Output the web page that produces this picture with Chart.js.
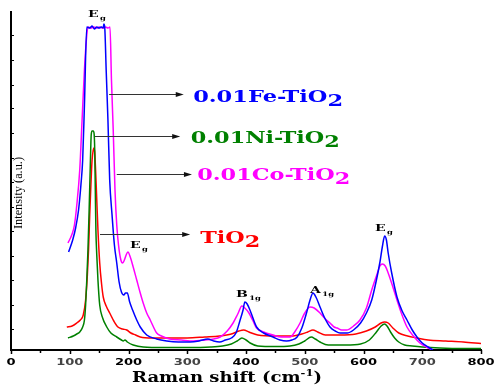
<!DOCTYPE html>
<html><head><meta charset="utf-8">
<script src="https://cdn.jsdelivr.net/npm/chart.js@4.4.0/dist/chart.umd.min.js"></script>
<style>html,body{margin:0;padding:0;background:#fff}canvas{display:block}</style>
</head><body>
<canvas id="c" width="494" height="387"></canvas>
<script>
// ---- data (Raman shift in cm^-1, intensity in arbitrary units) ----
const feShift=[98,105,110,115,119,122,125,129,134,138,142,146,150,154,157,158,159.5,162,165,168,172,176,180,184,188,192,195,198,202,207,214,220,231,248,265,285,305,320,335,345,355,365,375,383,390,395,398,402,408,418,430,446,458,469,478,487,495,503,509,514,519,526,534,543,552,560,572,583,595,605,614,622,628,632,636,639,642,648,657,665,674,683,691,700,710,718];
const feInt=[98,110,122,140,165,190,245,323,322,324,321,323,322,323,322,326,323,280,230,170,135,105,87,68,58,55,57,57,48,40,30,23,15,11,9,8,8,9,11,9,8,10,12,17,30,40,48,46,38,23,17,13,10,9,10,13,22,37,50,57,53,43,32,23,19,17,17,20,27,37,50,70,88,103,114,110,97,77,53,40,30,20,13,7,3,0];

const coShift=[97,104,108,112,117,121,125,129,131,136,141,146,151,156,161,165,168.5,171,174,177,180,183,187,190,193,196,199,203,208,214,220,225,231,237,248,256,270,290,310,330,345,356,368,378,386,393,398,405,412,418,430,446,460,475,484,492,500,509,516,526,535,543,550,555,563,571,583,594,605,614,622,628,632,637,642,650,657,665,674,685,696,707,718];
const coInt=[107,116,125,145,180,230,280,315,323,322,323,322,323,322,323,322,323,270,220,160,125,105,90,87,90,95,98,93,83,70,57,47,37,30,17,14,11,10,9,10,11,13,19,27,36,44,42,37,29,22,18,15,13,13,19,27,37,43,42,37,31,27,23,22,20,20,24,30,42,60,74,84,86,84,77,63,50,36,23,14,7,3,0];

const niShift=[97,106,112,117,122,125,127,129,131,133,135,136.5,138,140,141.5,142.5,143.5,144.5,146,148,151,156,163,170,180,188,191,194,198,208,225,260,300,340,360,375,385,393,400,407,420,450,475,490,500,511,518,526,540,570,595,610,622,630,636,640,646,653,660,670,683,700,730,770,800];
const niInt=[12,14,16,18,23,30,45,70,100,140,185,215,219,219,216,200,160,120,95,70,45,32,23,17,13,10,9,10,8,5,3,2.5,2.5,3,4,6,9,12,10,7,4,3.5,4,6,9,13,11,8,5,5,6,10,18,24,26,24,18,12,8,5,4,3,2,1.5,1.5];

const tiShift=[95,104,112,118,123,127,130,132,134,136,138,140,141,142.5,144,146,148,151,154,157,162,168,175,182,190,197,204,212,220,240,270,300,330,355,375,388,396,405,420,450,480,495,505,514,522,535,560,587,605,620,630,636,642,650,660,675,691,710,740,770,800];
const tiInt=[23,24,27,30,35,50,75,100,135,165,190,200,202,198,180,150,120,87,67,53,44,37,29,23,21,20,17,15,13,12,12,12,13,14,16,19,20,18,15,14,14,16,18,20,18,15,15,16,19,23,27,28,27,22,17,14,12,10,9,8,6.5];

const seriesNames=['0.01Fe-TiO2','0.01Co-TiO2','0.01Ni-TiO2','TiO2'];
const xTickValues=[0,100,200,300,400,500,600,700,800];
const xTickLabels=['0','100','200','300','400','500','600','700','800'];
const xMinorValues=[50,150,250,350,450,550,650,750];
const yTickValues=[21,45,70,94,119,143,168,192,217,242,265,290,315];

// ---- annotation placement (data units) ----
const callouts=[
  {x1:167,y:256,x2:294,tx:310,tb:248,tw:150,color:'#0000ff',text:'0.01Fe-TiO',sub:'2'},
  {x1:143,y:214,x2:288,tx:306,tb:207,tw:149,color:'#008000',text:'0.01Ni-TiO',sub:'2'},
  {x1:180,y:175.5,x2:308,tx:317,tb:170,tw:153,color:'#ff00ff',text:'0.01Co-TiO',sub:'2'},
  {x1:151.5,y:116.5,x2:305,tx:322,tb:107,tw:60,color:'#ff0000',text:'TiO',sub:'2'}
];
const peakLabels=[
  {x:131,y:333,main:'E',sub:'g'},
  {x:202.6,y:102,main:'E',sub:'g'},
  {x:383,y:53,main:'B',sub:'1g'},
  {x:509,y:57,main:'A',sub:'1g'},
  {x:619.6,y:119,main:'E',sub:'g'}
];

function pts(xs,ys){return xs.map((x,i)=>({x:x,y:ys[i]}));}

function richWidth(ctx,parts){let w=0;parts.forEach(p=>{ctx.font=p.f;w+=ctx.measureText(p.t).width+(p.gap||0);});return w;}
function drawRich(ctx,parts,x,y,scaleX,color,align){
  ctx.save();
  const w=richWidth(ctx,parts)*scaleX;
  let sx=x; if(align==='center') sx=x-w/2;
  ctx.translate(sx,y); ctx.scale(scaleX,1);
  ctx.fillStyle=color; ctx.textBaseline='alphabetic'; ctx.textAlign='left';
  let cx=0;
  parts.forEach(p=>{ctx.font=p.f;ctx.fillText(p.t,cx,p.dy||0);cx+=ctx.measureText(p.t).width+(p.gap||0);});
  ctx.restore();
}
function drawRichFit(ctx,parts,x,y,targetW,color){
  const w=richWidth(ctx,parts);
  drawRich(ctx,parts,x,y,targetW/w,color,'left');
}

const decor={
  id:'decor',
  afterDraw(chart){
    const ctx=chart.ctx, xs=chart.scales.x, ys=chart.scales.y, ca=chart.chartArea;
    ctx.save();
    // x tick marks
    ctx.strokeStyle='#000'; ctx.lineWidth=1.5;
    xTickValues.forEach(v=>{const p=Math.round(xs.getPixelForValue(v))+0.5;ctx.beginPath();ctx.moveTo(p,ca.bottom);ctx.lineTo(p,ca.bottom+4);ctx.stroke();});
    xMinorValues.forEach(v=>{const p=Math.round(xs.getPixelForValue(v))+0.5;ctx.beginPath();ctx.moveTo(p,ca.bottom);ctx.lineTo(p,ca.bottom+3);ctx.stroke();});
    // y tick marks (inward)
    ctx.lineWidth=1;
    yTickValues.forEach(v=>{const p=Math.round(ys.getPixelForValue(v))+0.5;ctx.beginPath();ctx.moveTo(ca.left,p);ctx.lineTo(ca.left+3,p);ctx.stroke();});
    // x tick labels
    xTickValues.forEach((v,i)=>{
      drawRich(ctx,[{t:xTickLabels[i],f:'bold 9px "DejaVu Sans"'}],xs.getPixelForValue(v),ca.bottom+15,1.45,i%2?'#444':'#000','center');
    });
    // x title
    drawRichFit(ctx,[{t:'Raman shift (cm',f:'bold 14px "DejaVu Serif"'},{t:'-1',f:'bold 9px "DejaVu Serif"',dy:-6},{t:')',f:'bold 14px "DejaVu Serif"'}],132,ca.bottom+32,190,'#000');
    // y title
    ctx.save();
    ctx.translate(ca.left+11,193); ctx.rotate(-Math.PI/2);
    ctx.font='12px "Liberation Serif"';
    const tw=ctx.measureText('Intensity (a.u.)').width;
    ctx.scale(72/tw,1);
    ctx.fillStyle='#000'; ctx.textAlign='center'; ctx.textBaseline='alphabetic';
    ctx.fillText('Intensity (a.u.)',0,0);
    ctx.restore();
    // callouts
    callouts.forEach(c=>{
      const a=xs.getPixelForValue(c.x1), b=xs.getPixelForValue(c.x2), y=Math.round(ys.getPixelForValue(c.y))+0.5;
      ctx.strokeStyle='#333'; ctx.lineWidth=1;
      ctx.beginPath(); ctx.moveTo(a,y); ctx.lineTo(b-5,y); ctx.stroke();
      ctx.fillStyle='#111'; ctx.beginPath(); ctx.moveTo(b,y); ctx.lineTo(b-8,y-2.5); ctx.lineTo(b-8,y+2.5); ctx.closePath(); ctx.fill();
      drawRichFit(ctx,[{t:c.text,f:'bold 16px "DejaVu Serif"'},{t:c.sub,f:'bold 16px "DejaVu Serif"',dy:4}],xs.getPixelForValue(c.tx),ys.getPixelForValue(c.tb),c.tw,c.color);
    });
    // peak labels
    peakLabels.forEach(p=>{
      drawRich(ctx,[{t:p.main,f:'bold 10px "DejaVu Serif"',gap:1},{t:p.sub,f:'bold 6px "DejaVu Serif"',dy:3}],xs.getPixelForValue(p.x),ys.getPixelForValue(p.y),1.4,'#000','left');
    });
    ctx.restore();
  }
};

const lineDs=(label,xs,ys,color)=>({label:label,data:pts(xs,ys),borderColor:color,backgroundColor:color,borderWidth:1.5,pointRadius:0,fill:false,cubicInterpolationMode:'monotone'});

new Chart(document.getElementById('c'),{
  type:'line',
  data:{datasets:[
    lineDs(seriesNames[0],feShift,feInt,'#0000ff'),
    lineDs(seriesNames[1],coShift,coInt,'#ff00ff'),
    lineDs(seriesNames[2],niShift,niInt,'#008000'),
    lineDs(seriesNames[3],tiShift,tiInt,'#ff0000')
  ]},
  options:{
    responsive:false,animation:false,
    layout:{padding:{left:11,right:13,top:12,bottom:37}},
    plugins:{legend:{display:false},tooltip:{enabled:false}},
    scales:{
      x:{type:'linear',min:0,max:800,grid:{display:false,drawTicks:false},ticks:{display:false},border:{display:true,color:'#000',width:2}},
      y:{type:'linear',min:0,max:338,grid:{display:false,drawTicks:false},ticks:{display:false},border:{display:true,color:'#000',width:2}}
    }
  },
  plugins:[decor]
});
</script>
</body></html>
